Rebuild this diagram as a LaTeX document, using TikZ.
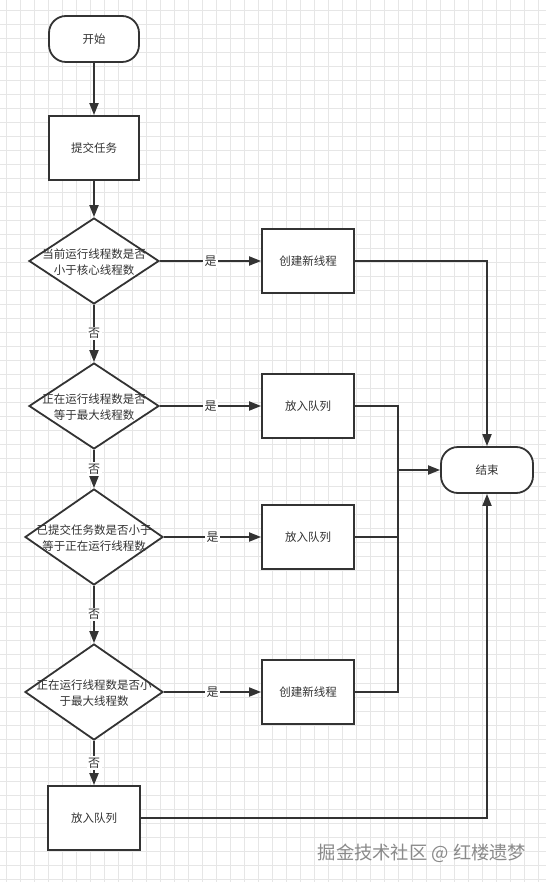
\documentclass[tikz,border=0pt]{standalone}
\usepackage{fontspec}
\setmainfont{Noto Sans CJK SC}
\usetikzlibrary{shapes.geometric,arrows.meta}
\definecolor{linec}{HTML}{333333}
\definecolor{txtc}{HTML}{333333}
\definecolor{gridc}{HTML}{E6E6E6}
\definecolor{wmc}{HTML}{8A8A8A}
\newcommand{\nodefont}{\fontsize{11.5}{15.7}\selectfont}
\newcommand{\lblfont}{\fontsize{12}{14}\selectfont}
\tikzset{
  ln/.style={draw=linec, line width=1.8pt},
  arr/.style={ln, -{Triangle[length=12pt,width=9pt]}},
  box/.style={draw=linec, line width=1.8pt, fill=white, minimum width=92pt, minimum height=64pt, inner sep=0pt, font=\nodefont, text=txtc},
  term/.style={box, rounded corners=17pt, minimum width=90pt, minimum height=46pt},
  dia/.style={diamond, draw=linec, line width=1.8pt, fill=white, inner sep=0pt, minimum width=130pt, minimum height=86pt},
  diawide/.style={dia, minimum width=138pt, minimum height=96pt},
  dtext/.style={align=center, font=\nodefont, text=txtc, inner sep=0pt},
  lbl/.style={fill=white, inner sep=1.5pt, font=\lblfont, text=txtc},
  gridline/.style={draw=gridc, line width=0.7pt}
}
\begin{document}
\begin{tikzpicture}[x=1pt,y=-1pt]
\useasboundingbox (0,0) rectangle (546,882);
\fill[white] (0,0) rectangle (546,882);
\foreach \i in {0,...,38} \draw[gridline] ({6+\i*14.02},0) -- ({6+\i*14.02},882);
\foreach \j in {0,...,62} \draw[gridline] (0,{9.9+\j*14.02}) -- (546,{9.9+\j*14.02});

% nodes
\node[term] (start) at (94,39) {开始};
\node[box, minimum width=90pt] (submit) at (94,148) {提交任务};
\node[dia] (d1) at (94,261) {};
\node[dtext] (t1) at (94,262) {当前运行线程数是否\\小于核心线程数};
\node[dia] (d2) at (94,406) {};
\node[dtext] (t2) at (94,407) {正在运行线程数是否\\等于最大线程数};
\node[diawide] (d3) at (94,537) {};
\node[dtext] (t3) at (94,538) {已提交任务数是否小于\\等于正在运行线程数};
\node[diawide] (d4) at (94,692) {};
\node[dtext] (t4) at (94,693) {正在运行线程数是否小\\于最大线程数};
\node[box] (c1) at (308,261) {创建新线程};
\node[box] (q1) at (308,406) {放入队列};
\node[box] (q2) at (308,537) {放入队列};
\node[box] (c2) at (308,692) {创建新线程};
\node[box] (q3) at (94,818) {放入队列};
\node[term, minimum width=92pt] (end) at (487,470) {结束};
\coordinate (bus) at (398,470);

% vertical flow
\draw[arr] (start) -- (submit);
\draw[arr] (submit) -- (d1);
\draw[arr] (d1.south) -- node[lbl]{否} (d2.north);
\draw[arr] (d2.south) -- node[lbl]{否} (d3.north);
\draw[arr] (d3.south) -- node[lbl]{否} (d4.north);
\draw[arr] (d4.south) -- node[lbl]{否} (q3.north);

% yes branches
\draw[arr] (d1.east) -- node[lbl]{是} (c1.west);
\draw[arr] (d2.east) -- node[lbl]{是} (q1.west);
\draw[arr] (d3.east) -- node[lbl]{是} (q2.west);
\draw[arr] (d4.east) -- node[lbl]{是} (c2.west);

% to end
\draw[arr] (c1.east) -| (end.north);
\draw[arr] (q1.east) -| (bus) -- (end.west);
\draw[ln] (q2.east) -| (bus);
\draw[ln] (c2.east) -| (bus);
\draw[arr] (q3.east) -| (end.south);

% watermark
\node[font=\fontsize{18.3}{20}\selectfont, text=wmc, inner sep=0pt] (wm) at (422,853) {掘金技术社区 @ 红楼遗梦};
\end{tikzpicture}
\end{document}
